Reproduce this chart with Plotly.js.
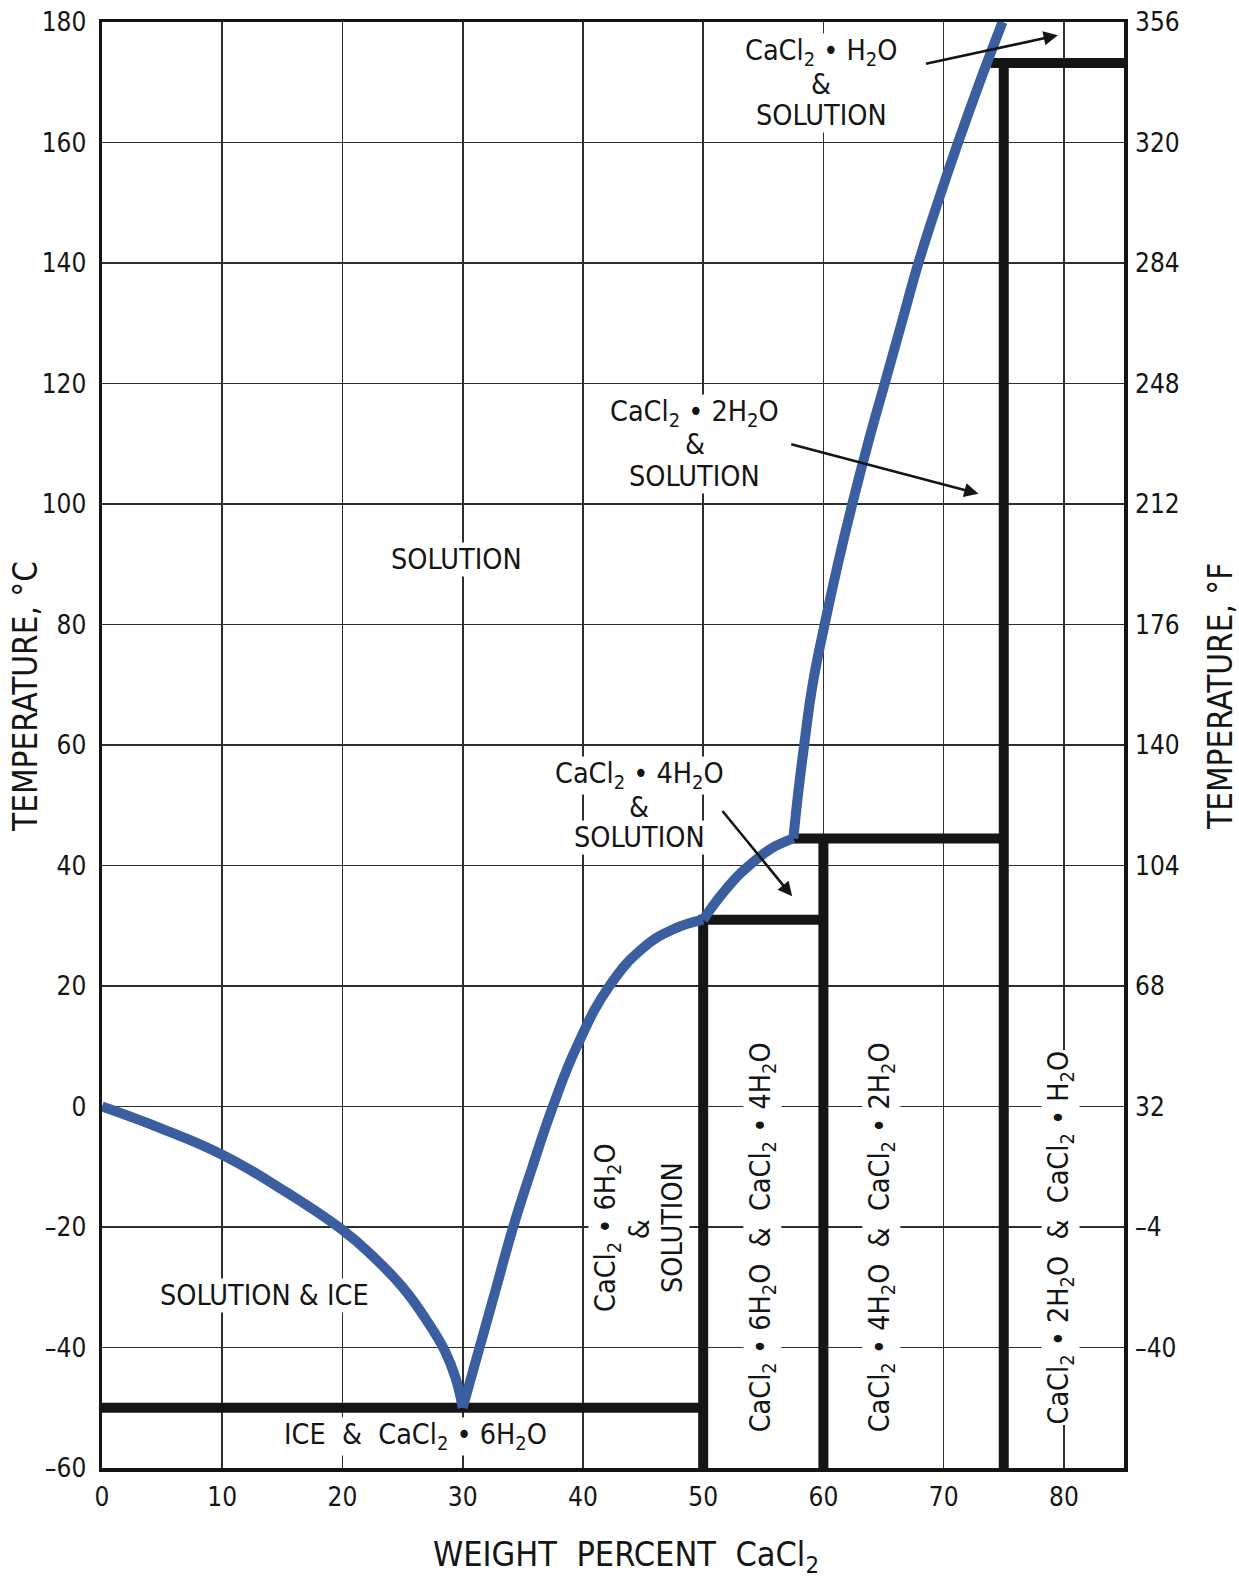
<!DOCTYPE html>
<html>
<head>
<meta charset="utf-8">
<script src="https://cdn.plot.ly/plotly-3.0.1.min.js"></script>
<style>
  html, body { margin: 0; padding: 0; background: #ffffff; }
  #chart { width: 1239px; height: 1578px; }
</style>
</head>
<body>
<div id="chart"></div>
<script>
// ---------- data ----------
// Liquidus: ice branch (wt % CaCl2, °C)
const iceX = [0, 5, 10, 15, 20, 22.5, 25, 27, 28.5, 29.4, 30];
const iceY = [0, -3.7, -8, -13.8, -20.5, -24.8, -30, -35.5, -40.5, -45, -50];
// CaCl2·6H2O branch
const hexX = [30, 31.4, 32.8, 34.2, 35.8, 37.5, 39.5, 42.2, 45, 47.5, 50];
const hexY = [-50, -40, -30, -20, -10, 0, 10, 20, 26.3, 29.4, 31];
// CaCl2·4H2O branch
const tetX = [50, 51, 52, 53, 54, 55, 56, 57.5];
const tetY = [31, 33.8, 36.3, 38.5, 40.3, 41.9, 43.2, 44.5];
// CaCl2·2H2O branch
const diX = [57.5, 57.9, 58.4, 59.1, 60.1, 61.2, 62.4, 63.7, 65.1, 66.5, 67.9, 69.5, 71.2, 73.0, 74.9];
const diY = [44.5, 52, 60, 70, 80, 90, 100, 110, 120, 130, 140, 150, 160, 170, 180];

// Phase-boundary segments (solid phases)
const eutecticX = [0, 50];        const eutecticY = [-50, -50];
const hexWallX = [50, 50];        const hexWallY = [31, -60];
const hexTopX = [49.6, 60.3];     const hexTopY = [31, 31];
const tetWallX = [60, 60];        const tetWallY = [44.5, -60];
const tetTopX = [57.4, 75.3];     const tetTopY = [44.5, 44.5];
const diWallX = [75, 75];         const diWallY = [173.2, -60];
const diTopX = [73.9, 85];        const diTopY = [173.2, 173.2];

// Axis ticks
const xTicks = [0, 10, 20, 30, 40, 50, 60, 70, 80];
const cTicks = [-60, -40, -20, 0, 20, 40, 60, 80, 100, 120, 140, 160, 180];
const cLabels = ['\u201360', '\u201340', '\u201320', '0', '20', '40', '60', '80', '100', '120', '140', '160', '180'];
const fTickPos = [-40, -20, 0, 20, 40, 60, 80, 100, 120, 140, 160, 180];
const fLabels = ['\u201340', '\u20134', '32', '68', '104', '140', '176', '212', '248', '284', '320', '356'];

// ---------- drawing ----------
const FONT = '"Liberation Sans Narrow", "DejaVu Sans Condensed", "Roboto Condensed", "Arial Narrow", sans-serif';
const INK = '#151515';
const BLUE = '#3a5e9f';

function seg(x, y) {
  return { x: x, y: y, type: 'scatter', mode: 'lines', hoverinfo: 'skip',
           line: { color: INK, width: 10 }, showlegend: false };
}
function branch(x, y) {
  return { x: x, y: y, type: 'scatter', mode: 'lines', hoverinfo: 'skip',
           line: { color: BLUE, width: 10, shape: 'spline', smoothing: 1.3 }, showlegend: false };
}

const traces = [
  seg(eutecticX, eutecticY),
  seg(hexWallX, hexWallY),
  seg(hexTopX, hexTopY),
  seg(tetWallX, tetWallY),
  seg(tetTopX, tetTopY),
  seg(diWallX, diWallY),
  seg(diTopX, diTopY),
  branch(iceX, iceY),
  branch(hexX, hexY),
  branch(tetX, tetY),
  branch(diX, diY),
  // invisible trace to activate the right axis
  { x: [0], y: [0], yaxis: 'y2', type: 'scatter', mode: 'markers',
    marker: { opacity: 0 }, hoverinfo: 'skip', showlegend: false }
];

const S = '\u00a0';
const CA = 'CaCl<sub>2</sub>';
const dot = S + '•' + S;
const lab = (x, y, text, extra) => Object.assign({
  x: x, y: y, xref: 'x', yref: 'y', text: text, showarrow: false,
  font: { family: FONT, size: 28.5, color: INK }, bgcolor: '#ffffff',
  borderpad: 0, align: 'center'
}, extra || {});
const arrow = (tx, ty, hx, hy) => ({
  x: hx, y: hy, ax: tx, ay: ty, xref: 'x', yref: 'y', axref: 'x', ayref: 'y',
  text: '', showarrow: true, arrowhead: 2, arrowsize: 1.1, arrowwidth: 2.6,
  arrowcolor: INK, standoff: 0, startstandoff: 0
});
const V = { textangle: -90 };

const annotations = [
  lab(29.45, 90.8, 'SOLUTION'),
  lab(13.5, -31.4, 'SOLUTION & ICE'),
  lab(26.1, -54.8, 'ICE' + S + S + '&' + S + S + CA + dot + '6H<sub>2</sub>O'),
  // CaCl2·H2O & solution (three lines, bottom first)
  lab(59.8, 164.5, 'SOLUTION'),
  lab(59.8, 169.7, '&'),
  lab(59.8, 175.0, CA + dot + 'H<sub>2</sub>O'),
  // CaCl2·2H2O & solution
  lab(49.3, 104.6, 'SOLUTION'),
  lab(49.3, 109.8, '&'),
  lab(49.3, 115.0, CA + dot + '2H<sub>2</sub>O'),
  // CaCl2·4H2O & solution
  lab(44.7, 44.6, 'SOLUTION'),
  lab(44.7, 49.7, '&'),
  lab(44.7, 54.9, CA + dot + '4H<sub>2</sub>O'),
  // CaCl2·6H2O & solution (vertical)
  lab(47.4, -20, 'SOLUTION', V),
  lab(44.7, -20.3, '&', V),
  lab(42.0, -20, CA + dot + '6H<sub>2</sub>O', V),
  // solid-solid regions (vertical)
  lab(54.9, -21.7, CA + dot + '6H<sub>2</sub>O' + S + S + '&' + S + S + CA + dot + '4H<sub>2</sub>O', V),
  lab(64.8, -21.7, CA + dot + '4H<sub>2</sub>O' + S + S + '&' + S + S + CA + dot + '2H<sub>2</sub>O', V),
  lab(79.7, -21.7, CA + dot + '2H<sub>2</sub>O' + S + S + '&' + S + S + CA + dot + 'H<sub>2</sub>O', V),
  arrow(68.4, 173.0, 79.5, 177.8),
  arrow(57.2, 110.0, 72.9, 101.7),
  arrow(51.5, 49.3, 57.4, 34.9),
  // axis titles
  { xref: 'paper', yref: 'paper', x: 0.5, y: 0, xshift: 13, yshift: -88, xanchor: 'center', yanchor: 'middle',
    text: 'WEIGHT' + S + S + 'PERCENT' + S + S + CA, showarrow: false,
    font: { family: FONT, size: 34, color: INK } },
  { xref: 'paper', yref: 'paper', x: 0, y: 0.5, xshift: -77, yshift: 48, xanchor: 'center', yanchor: 'middle',
    text: 'TEMPERATURE, °C', textangle: -90, showarrow: false,
    font: { family: FONT, size: 33, color: INK } },
  { xref: 'paper', yref: 'paper', x: 1, y: 0.5, xshift: 96, yshift: 48, xanchor: 'center', yanchor: 'middle',
    text: 'TEMPERATURE, °F', textangle: -90, showarrow: false,
    font: { family: FONT, size: 33, color: INK } }
];

const axisCommon = {
  showline: true, linecolor: INK, linewidth: 3.5, mirror: true,
  showgrid: true, gridcolor: '#2e2e2e', gridwidth: 1.6,
  zeroline: false, ticks: '', fixedrange: true,
  tickfont: { family: FONT, size: 26, color: INK }
};

const layout = {
  width: 1239, height: 1578,
  margin: { l: 102, r: 115, t: 22, b: 110, pad: 0 },
  paper_bgcolor: '#ffffff', plot_bgcolor: '#ffffff',
  showlegend: false,
  xaxis: Object.assign({}, axisCommon, {
    range: [0, 85], tickvals: xTicks, ticktext: xTicks.map(String), ticklabelstandoff: 3
  }),
  yaxis: Object.assign({}, axisCommon, {
    range: [-60, 180], tickvals: cTicks, ticktext: cLabels, ticklabelstandoff: 7
  }),
  yaxis2: {
    overlaying: 'y', side: 'right', range: [-60, 180], showgrid: false, zeroline: false,
    showline: false, ticks: '', tickvals: fTickPos, ticktext: fLabels, fixedrange: true,
    ticklabelstandoff: 10, tickfont: { family: FONT, size: 26, color: INK }
  },
  annotations: annotations
};

Plotly.newPlot('chart', traces, layout, { staticPlot: true, displayModeBar: false });
</script>
</body>
</html>
